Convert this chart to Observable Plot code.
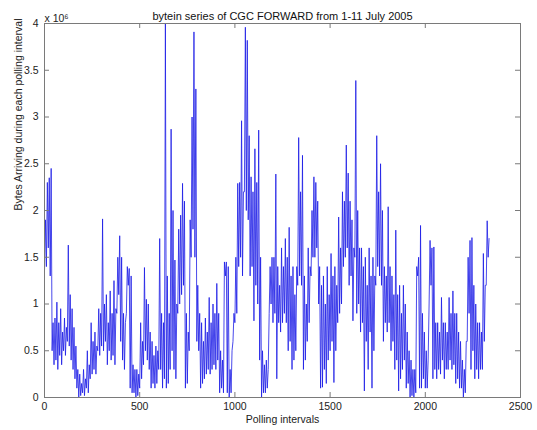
<!DOCTYPE html>
<html>
<head>
<meta charset="utf-8">
<script src="https://cdn.jsdelivr.net/npm/d3@7"></script>
<script src="https://cdn.jsdelivr.net/npm/@observablehq/plot@0.6"></script>
<style>
  html, body { margin: 0; padding: 0; background: #fff; }
</style>
</head>
<body>
<div id="chart"></div>
<script>
// Text drawn on the chart
const titleText = "bytein series of CGC FORWARD from 1-11 July 2005";
const xLabel = "Polling intervals";
const yLabel = "Bytes Arriving during each polling interval";
const yExponent = "x 10\u2076";

// Axis ticks (y values are in units of 10^6 bytes)
const xTicks = [0, 500, 1000, 1500, 2000, 2500];
const yTicks = [0, 0.5, 1, 1.5, 2, 2.5, 3, 3.5, 4];

// Bytes arriving per polling interval (x 10^6), summarised every 10 intervals
// as the low and the high reading inside that stretch (one row = 100 intervals).
const binStep = 10;
const binLow = [
  1.35, 1.4, 1.6, 1.3, 0.5, 0.35, 0.4, 0.3, 0.45, 0.35,
  0.5, 0.45, 0.6, 0.55, 0.4, 0.3, 0.2, 0.1, 0.0, 0.02,
  0.05, 0.02, 0.1, 0.05, 0.2, 0.25, 0.3, 0.25, 0.5, 0.45,
  0.55, 0.5, 0.6, 0.35, 0.5, 0.4, 0.45, 0.35, 0.9, 1.1,
  0.6, 0.4, 0.3, 0.9, 1.2, 0.1, 0.05, 0.05, 0.0, 0.02,
  0.1, 0.2, 0.35, 0.5, 0.4, 0.3, 0.1, 0.15, 0.1, 0.15,
  0.3, 0.3, 0.1, 0.2, 0.1, 0.15, 0.3, 0.5, 0.3, 0.2,
  0.9, 1.0, 1.1, 1.2, 0.1, 0.15, 0.5, 1.5, 1.8, 1.5,
  0.6, 0.5, 0.1, 0.15, 0.2, 0.25, 0.3, 0.25, 0.3, 0.35,
  0.3, 0.4, 0.05, 0.1, 0.05, 1.3, 0.05, 0.0, 0.05, 0.6,
  0.8, 0.9, 1.4, 1.5, 1.3, 2.2, 2.0, 1.9, 1.3, 1.4,
  0.82, 1.2, 1.0, 0.4, 0.0, 0.05, 0.05, 0.1, 0.9, 1.0,
  0.8, 0.9, 0.2, 0.8, 0.7, 0.8, 0.9, 0.8, 0.5, 0.6,
  0.3, 0.4, 0.5, 1.2, 1.3, 1.2, 0.3, 0.4, 0.6, 0.8,
  1.3, 1.5, 1.5, 1.6, 1.0, 0.1, 0.11, 0.3, 0.15, 0.4,
  0.5, 0.6, 0.16, 0.5, 0.8, 0.9, 1.0, 1.4, 1.5, 1.6,
  1.2, 1.3, 0.82, 1.5, 0.9, 1.0, 0.7, 0.8, 0.07, 0.6,
  0.3, 0.7, 0.1, 0.5, 1.2, 1.4, 1.3, 1.2, 0.6, 0.8,
  0.7, 0.8, 0.5, 0.6, 0.3, 0.4, 0.07, 0.2, 0.3, 0.4,
  0.1, 0.15, 0.0, 0.02, 0.0, 0.05, 1.3, 0.1, 0.1, 0.2,
  0.1, 0.1, 1.0, 1.2, 0.2, 0.3, 0.2, 0.3, 0.25, 0.4,
  0.2, 0.3, 0.3, 0.4, 0.3, 0.35, 0.15, 0.2, 0.1, 0.1,
  0.0, 0.05, 0.6, 0.9, 0.3, 0.5, 0.2, 0.3, 0.2, 0.3,
  0.3, 0.6, 1.2, 1.5
];
const binHigh = [
  1.9, 2.3, 2.35, 2.45, 0.8, 0.85, 1.02, 0.8, 0.95, 0.7,
  0.85, 0.75, 1.63, 1.1, 0.95, 0.75, 0.55, 0.3, 0.25, 0.15,
  0.3, 0.2, 0.5, 0.35, 0.8, 0.6, 0.7, 0.55, 0.95, 0.9,
  1.91, 1.0, 1.1, 0.8, 1.14, 0.9, 1.25, 0.95, 1.5, 1.73,
  1.5, 0.9, 0.8, 1.4, 1.38, 1.3, 0.35, 0.3, 0.3, 0.25,
  0.8, 0.6, 1.39, 1.05, 1.0, 0.7, 0.6, 0.45, 0.55, 0.5,
  1.7, 0.9, 0.8, 4.0, 1.3, 0.9, 2.87, 2.0, 1.47, 1.0,
  1.8, 1.95, 2.29, 2.1, 0.9, 0.7, 1.9, 3.0, 3.91, 3.3,
  1.2, 0.9, 0.8, 0.6, 0.85, 0.7, 1.07, 0.8, 1.0, 0.9,
  1.22, 0.9, 0.5, 0.4, 1.45, 1.45, 1.4, 0.3, 0.5, 0.9,
  1.5, 2.29, 2.3, 2.96, 2.2, 3.96, 3.82, 2.8, 2.36, 2.2,
  2.66, 2.3, 2.86, 1.5, 0.5, 0.35, 0.4, 0.3, 1.4, 1.5,
  1.5, 2.39, 1.4, 1.2, 1.6, 1.4, 1.7, 1.5, 1.82, 1.3,
  1.4, 1.1, 1.4, 2.78, 2.2, 2.59, 1.3, 1.0, 1.6, 1.4,
  2.0, 2.36, 2.3, 2.1, 1.4, 1.2, 1.3, 1.0, 1.4, 1.1,
  1.54, 1.3, 1.4, 1.2, 1.93, 1.6, 2.2, 2.1, 2.7, 2.4,
  2.1, 1.9, 1.6, 3.39, 2.0, 1.6, 1.6, 1.4, 1.5, 1.2,
  1.6, 1.3, 1.5, 1.3, 2.8, 2.2, 2.5, 2.0, 1.4, 1.3,
  2.04, 1.4, 1.3, 1.1, 1.79, 1.1, 1.2, 0.9, 1.2, 1.0,
  0.7, 0.5, 0.4, 0.3, 0.3, 1.4, 1.5, 1.84, 0.9, 0.7,
  0.5, 0.4, 1.68, 1.6, 1.61, 0.8, 0.8, 0.7, 1.07, 0.8,
  0.8, 0.7, 1.07, 0.9, 1.14, 0.9, 0.9, 0.7, 0.6, 0.4,
  0.3, 0.6, 1.5, 1.68, 1.71, 1.2, 1.0, 0.8, 0.8, 0.7,
  1.54, 1.2, 1.89, 1.7
];

// Line points: low then high within each stretch
const series = [];
binLow.forEach((lo, k) => {
  series.push({interval: k * binStep, bytes: lo});
  series.push({interval: k * binStep + binStep / 2, bytes: binHigh[k]});
});

const W = 537, H = 430;
const mL = 44, mR = 17, mT = 23, mB = 33;
const innerW = W - mL - mR, innerH = H - mT - mB;
const font = "'Liberation Sans', Arial, Helvetica, sans-serif";
const axisGray = "#7a7a7a";
const tickLen = 5;

const chart = Plot.plot({
  width: W,
  height: H,
  marginLeft: mL,
  marginRight: mR,
  marginTop: mT,
  marginBottom: mB,
  style: {fontFamily: font, fontSize: "10.5px", color: "#222", background: "#fff"},
  x: {domain: [0, 2500]},
  y: {domain: [0, 4]},
  marks: [
    Plot.line(series, {x: "interval", y: "bytes", stroke: "#1a1ae6", strokeWidth: 0.8}),
    Plot.frame({stroke: axisGray}),
    // inward ticks on all four sides
    Plot.tickX(xTicks, {x: d => d, stroke: axisGray, insetTop: innerH - tickLen}),
    Plot.tickX(xTicks, {x: d => d, stroke: axisGray, insetBottom: innerH - tickLen}),
    Plot.tickY(yTicks, {y: d => d, stroke: axisGray, insetRight: innerW - tickLen}),
    Plot.tickY(yTicks, {y: d => d, stroke: axisGray, insetLeft: innerW - tickLen}),
    Plot.axisX(xTicks, {tickSize: 0, tickPadding: 5, tickFormat: d => String(d), label: null}),
    Plot.axisY(yTicks, {tickSize: 0, tickPadding: 6, tickFormat: d => String(d), label: null}),
    Plot.text([titleText], {frameAnchor: "top", dy: -11, text: d => d, fontSize: 11, fill: "#111"}),
    Plot.text([yExponent], {frameAnchor: "top-left", dy: -9, dx: 0, textAnchor: "start", text: d => d, fontSize: 10.5, fill: "#222"}),
    Plot.text([xLabel], {frameAnchor: "bottom", dy: 25, text: d => d, fontSize: 10.5, fill: "#222"}),
    Plot.text([yLabel], {frameAnchor: "left", dx: -26, rotate: -90, text: d => d, fontSize: 10.5, fill: "#222"})
  ]
});

document.getElementById("chart").appendChild(chart);
</script>
</body>
</html>
